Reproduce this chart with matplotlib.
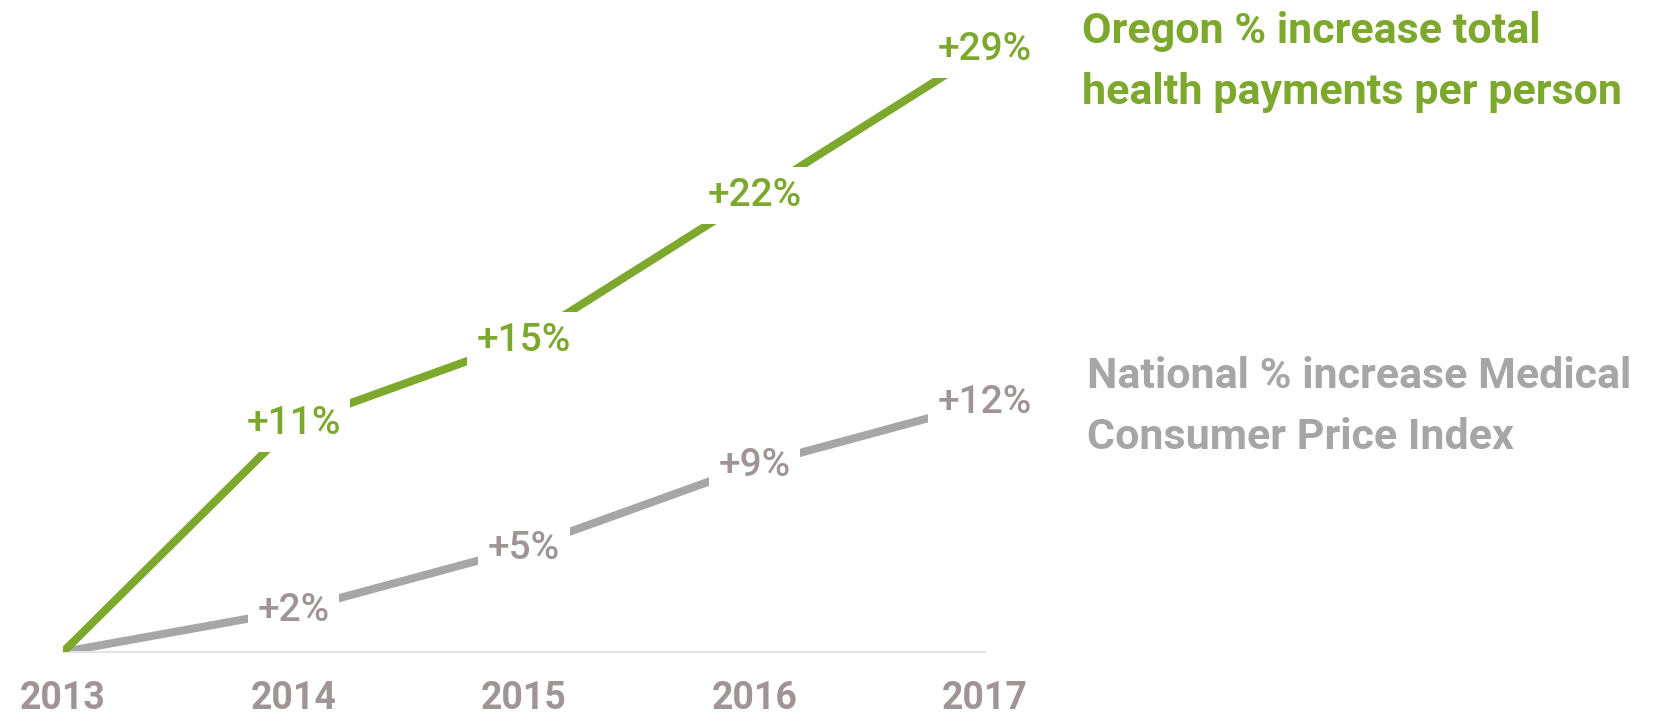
import matplotlib

matplotlib.use("Agg")
import matplotlib.pyplot as plt  # noqa: E402

years = ["2013", "2014", "2015", "2016", "2017"]
oregon = [0, 11, 15, 22, 29]
national = [0, 2, 5, 9, 12]
oregon_labels = ["", "+11%", "+15%", "+22%", "+29%"]
national_labels = ["", "+2%", "+5%", "+9%", "+12%"]

GREEN = "#7DA82E"
GRAY_LINE = "#A6A6A6"
GRAY_TEXT = "#A09595"

fig = plt.figure(figsize=(16.6, 7.22), dpi=100)
W, H = 1660, 722
ax = fig.add_axes([63 / W, (H - 652) / H, (985 - 63) / W, 602 / H])

x = list(range(len(years)))
ax.plot(x, national, color=GRAY_LINE, lw=5.8, solid_capstyle="butt", zorder=2)
ax.plot(x, oregon, color=GREEN, lw=5.8, solid_capstyle="butt", zorder=3)

lab_font = dict(family=["Roboto", "DejaVu Sans"], fontsize=28, fontweight="medium")
box = dict(boxstyle="square,pad=0.25", fc="white", ec="none")
for xi, v, t in zip(x, oregon, oregon_labels):
    if t:
        ax.text(xi, v, t, ha="center", va="center", color=GREEN, bbox=box,
                zorder=5, clip_on=False, **lab_font)
for xi, v, t in zip(x, national, national_labels):
    if t:
        ax.text(xi, v, t, ha="center", va="center", color=GRAY_TEXT, bbox=box,
                zorder=5, clip_on=False, **lab_font)

ax.set_xlim(0, 4)
ax.set_ylim(0, 29)
ax.set_xticks(x)
ax.set_xticklabels(years, family=["Roboto", "DejaVu Sans"], fontsize=27,
                   fontweight="bold", color=GRAY_TEXT)
ax.tick_params(axis="x", length=0, pad=20)
ax.set_yticks([])
for s in ["top", "left", "right"]:
    ax.spines[s].set_visible(False)
ax.spines["bottom"].set_color("#E3E3E3")
ax.spines["bottom"].set_linewidth(1.5)
ax.set_facecolor("none")

title_font = dict(family=["Roboto", "DejaVu Sans"], fontsize=31,
                  fontweight="bold", ha="left", va="center", linespacing=1.62)
fig.text(1082 / W, 1 - 62 / H, "Oregon % increase total\nhealth payments per person",
         color=GREEN, **title_font)
fig.text(1087 / W, 1 - 407 / H, "National % increase Medical\nConsumer Price Index",
         color=GRAY_LINE, **title_font)

fig.savefig("out.png", dpi=100, facecolor="white")
